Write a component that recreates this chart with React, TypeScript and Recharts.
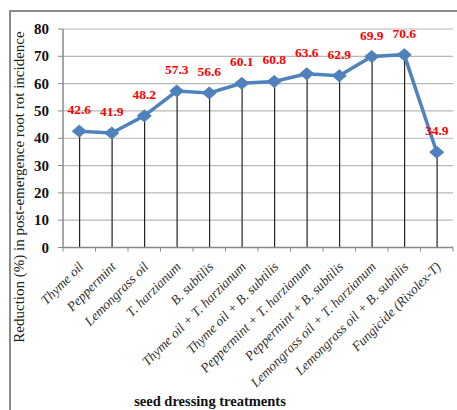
import React from "react";
import {
  ComposedChart,
  Line,
  Bar,
  XAxis,
  YAxis,
  CartesianGrid,
  LabelList,
} from "recharts";

const treatments = [
  "Thyme oil",
  "Peppermint",
  "Lemongrass oil",
  "T. harzianum",
  "B. subtilis",
  "Thyme oil + T. harzianum",
  "Thyme oil + B. subtilis",
  "Peppermint + T. harzianum",
  "Peppermint + B. subtilis",
  "Lemongrass oil + T. harzianum",
  "Lemongrass oil + B. subtilis",
  "Fungicide (Rixolex-T)",
];

const reduction = [42.6, 41.9, 48.2, 57.3, 56.6, 60.1, 60.8, 63.6, 62.9, 69.9, 70.6, 34.9];

const yTicks = [0, 10, 20, 30, 40, 50, 60, 70, 80];
const gridValues = [
  0, 2, 4, 6, 8, 10, 12, 14, 16, 18, 20, 22, 24, 26, 28, 30, 32, 34, 36, 38, 40,
  42, 44, 46, 48, 50, 52, 54, 56, 58, 60, 62, 64, 66, 68, 70, 72, 74, 76, 78, 80,
];

const data = treatments.map((name, i) => ({ name, value: reduction[i] }));

const SERIF = "Liberation Serif";
const BLUE = "#4f81bd";

function Diamond(props: any) {
  const { cx, cy } = props;
  if (cx == null || cy == null) return null;
  const w = 7;
  const h = 6;
  return (
    <polygon
      points={`${cx},${cy - h} ${cx + w},${cy} ${cx},${cy + h} ${cx - w},${cy}`}
      fill={BLUE}
      stroke={BLUE}
      strokeWidth={1}
    />
  );
}

function XTick(props: any) {
  const { x, y, payload, index, width, visibleTicksCount } = props;
  const half = width && visibleTicksCount ? width / visibleTicksCount / 2 : 16.25;
  const ax = x + 5;
  const ay = y + 12;
  return (
    <g>
      {index === 0 && (
        <line x1={x - half} y1={y - 8} x2={x - half} y2={y - 4} stroke="#888" />
      )}
      <line x1={x + half} y1={y - 8} x2={x + half} y2={y - 4} stroke="#888" />
      <text
        x={ax}
        y={ay}
        transform={`rotate(-45, ${ax}, ${ay})`}
        textAnchor="end"
        fontFamily={SERIF}
        fontStyle="italic"
        fontSize={13.5}
        fill="#333"
      >
        {payload.value}
      </text>
    </g>
  );
}

function YTick(props: any) {
  const { x, y, payload } = props;
  return (
    <text
      x={x}
      y={y}
      dy={5}
      textAnchor="end"
      fontFamily={SERIF}
      fontWeight="bold"
      fontSize={15}
      fill="#111"
    >
      {payload.value}
    </text>
  );
}

function ValueLabel(props: any) {
  const { x, y, width, value } = props;
  return (
    <text
      x={x + (width || 0) / 2}
      y={y - 17}
      textAnchor="middle"
      fontFamily={SERIF}
      fontWeight="bold"
      fontSize={13.5}
      fill="#ff0000"
    >
      {Number(value).toFixed(1)}
    </text>
  );
}

function YTitle() {
  return (
    <text
      x={24}
      y={187}
      transform="rotate(-90, 24, 187)"
      textAnchor="middle"
      fontFamily={SERIF}
      fontSize={15}
      fill="#222"
    >
      Reduction (%) in post-emergence root rot incidence
    </text>
  );
}

function XTitle() {
  return (
    <text
      x={210}
      y={406}
      textAnchor="middle"
      fontFamily={SERIF}
      fontWeight="bold"
      fontSize={14.5}
      fill="#111"
    >
      seed dressing treatments
    </text>
  );
}

export default function App() {
  return (
    <div
      style={{
        position: "absolute",
        left: 0,
        top: 0,
        width: 457,
        height: 410,
        overflow: "hidden",
        background: "#fff",
        fontFamily: SERIF,
      }}
    >
      <div
        style={{
          position: "absolute",
          left: 9,
          top: 10,
          width: 470,
          height: 420,
          borderLeft: "2px solid #8c8c8c",
          borderTop: "2px solid #8c8c8c",
        }}
      />
      <div
        style={{
          position: "absolute",
          left: 386,
          top: -20,
          fontFamily: SERIF,
          fontWeight: "bold",
          fontSize: 24,
          lineHeight: "24px",
          color: "#000",
        }}
      >
        Volume
      </div>
      <div style={{ position: "absolute", left: 0, top: 0 }}>
        <ComposedChart
          width={457}
          height={410}
          data={data}
          margin={{ top: 29, right: 4, left: 18, bottom: 32.5 }}
        >
          <CartesianGrid
            vertical={false}
            horizontalValues={gridValues}
            stroke="#b8b8b8"
            strokeWidth={1.2}
          />
          <XAxis
            dataKey="name"
            interval={0}
            height={130}
            tickLine={false}
            axisLine={{ stroke: "#888", strokeWidth: 1.5 }}
            tick={<XTick />}
            label={<XTitle />}
          />
          <YAxis
            domain={[0, 80]}
            ticks={yTicks}
            width={45}
            tickSize={5}
            tickMargin={9}
            axisLine={{ stroke: "#888", strokeWidth: 1.5 }}
            tickLine={{ stroke: "#888" }}
            tick={<YTick />}
            label={<YTitle />}
          />
          <Bar dataKey="value" barSize={1.2} fill="#222" isAnimationActive={false} />
          <Line
            type="linear"
            dataKey="value"
            stroke={BLUE}
            strokeWidth={3.5}
            dot={<Diamond />}
            activeDot={false}
            isAnimationActive={false}
          >
            <LabelList dataKey="value" content={<ValueLabel />} />
          </Line>
        </ComposedChart>
      </div>
    </div>
  );
}
